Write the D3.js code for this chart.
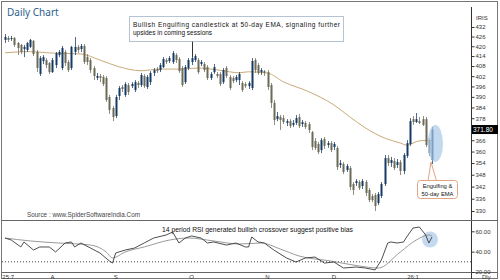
<!DOCTYPE html>
<html>
<head>
<meta charset="utf-8">
<script src="https://cdn.jsdelivr.net/npm/d3@7"></script>
<style>
body { margin: 0; background: #fff; }
text { font-family: "Liberation Sans", Arial, sans-serif; }
</style>
</head>
<body>
<div id="chart"></div>
<script>
var width = 500,
    height = 280;

// daily candles: open, high, low, close
var candles = [
[423.9,427.6,422.0,425.7],[425.1,426.4,422.6,423.9],[424.5,426.4,423.3,425.1],[425.1,425.7,419.6,420.8],
[422.0,422.6,414.6,418.9],[420.8,421.4,415.2,416.5],[418.3,420.8,413.4,419.6],[417.7,422.6,416.5,422.0],
[419.6,424.5,418.9,423.9],[423.3,423.9,414.0,415.2],[416.5,417.7,404.4,406.8],[403.3,414.0,402.1,412.8],
[411.0,414.6,409.2,413.4],[411.6,412.8,406.8,408.6],[409.8,410.4,403.3,404.4],[404.4,412.8,403.9,411.6],
[408.6,416.5,406.8,415.8],[414.6,417.7,413.4,416.5],[406.8,420.2,405.6,418.9],[416.5,417.7,408.0,409.8],
[410.4,411.6,404.4,405.6],[406.8,420.2,405.6,419.6],[416.5,425.7,414.6,419.6],[419.6,420.8,416.0,417.7],
[418.3,421.4,416.5,420.2],[420.2,421.4,409.2,410.4],[413.4,415.2,408.6,410.4],[411.6,412.8,403.9,405.6],
[406.8,408.0,399.7,402.1],[401.0,403.9,399.7,402.1],[402.1,403.3,398.5,401.0],[401.5,402.7,396.2,397.4],
[400.9,402.1,387.1,388.2],[389.9,391.1,380.4,382.6],[383.7,384.8,376.4,378.7],[379.2,391.1,378.1,389.9],
[390.5,396.2,388.2,395.1],[395.7,396.8,392.8,394.5],[391.1,398.5,390.0,397.4],[396.8,398.0,391.1,392.8],
[396.2,398.5,395.1,397.4],[393.9,399.7,392.8,398.5],[398.0,399.1,395.1,396.8],[396.8,403.9,395.7,402.7],
[402.1,403.3,395.1,396.2],[395.7,402.7,394.5,401.5],[398.5,405.0,396.8,403.9],[403.9,406.8,402.1,405.6],
[406.2,407.4,403.9,405.0],[405.6,409.8,404.4,408.6],[407.4,413.4,406.8,412.2],[411.6,412.8,409.2,410.4],
[411.0,414.0,409.8,412.8],[410.4,417.1,409.2,415.8],[414.6,415.8,409.8,411.6],[412.2,413.4,403.9,405.0],
[406.8,408.0,395.7,396.8],[398.5,408.6,397.4,407.4],[406.8,412.8,405.6,411.6],[410.4,414.0,408.6,412.8],
[411.6,415.2,410.4,414.0],[411.6,412.8,403.3,404.4],[409.2,411.6,408.0,410.4],[409.2,410.4,404.4,405.6],
[407.4,408.6,399.7,400.9],[400.9,404.4,399.7,403.3],[404.4,409.2,403.3,407.4],[403.3,404.4,401.0,402.1],
[403.3,404.4,396.2,397.4],[398.5,406.8,397.4,405.6],[406.8,408.0,401.0,402.1],[401.5,402.7,393.9,395.1],
[400.9,402.1,397.9,399.1],[399.7,402.7,398.5,401.5],[399.7,404.4,396.8,403.3],[398.0,399.1,392.8,393.9],
[397.4,398.5,395.1,396.2],[396.2,399.1,394.5,398.0],[395.1,412.8,393.9,411.0],[411.6,412.8,403.9,405.6],
[408.6,409.8,402.7,403.9],[404.4,406.8,402.7,405.6],[405.0,405.6,402.1,403.9],[404.4,405.6,393.9,395.7],
[396.8,398.0,383.7,386.6],[386.6,388.2,374.3,377.0],[377.5,381.5,376.4,379.2],[378.7,379.8,371.5,377.0],
[378.1,379.8,374.8,375.9],[375.4,377.5,373.7,376.4],[376.4,377.5,372.6,373.7],[374.3,377.0,373.2,375.4],
[375.4,379.8,374.3,378.1],[378.7,380.4,372.6,373.7],[374.8,377.0,373.2,375.9],[375.4,376.4,372.1,373.2],
[374.8,375.9,369.9,371.5],[370.4,371.0,360.8,362.4],[365.6,367.2,360.8,361.9],[364.0,365.1,358.7,359.7],
[360.8,367.2,359.2,366.1],[366.7,367.7,361.4,363.0],[363.5,365.6,362.0,364.5],[364.5,365.6,359.7,360.8],
[362.4,365.1,360.8,364.0],[361.9,362.9,350.4,351.9],[353.0,355.6,351.4,354.0],[353.5,354.5,348.3,349.4],
[350.4,353.5,349.4,352.5],[351.4,352.5,340.3,341.8],[343.3,344.3,337.8,340.3],[343.8,345.8,342.3,344.8],
[344.3,345.3,340.3,341.3],[342.3,345.8,340.8,344.8],[344.3,345.3,337.3,338.8],[340.3,341.3,334.3,335.3],
[337.3,338.3,334.3,335.3],[337.8,338.8,330.0,332.4],[333.9,339.3,332.9,338.3],[337.3,344.3,336.3,343.3],
[343.3,358.2,342.3,356.6],[356.6,358.2,352.5,354.0],[354.0,357.2,352.0,355.6],[355.1,356.6,350.4,351.4],
[353.0,356.1,351.4,354.5],[354.5,355.6,347.8,349.9],[349.9,359.2,348.3,358.2],[357.7,366.1,356.6,364.5],
[364.0,378.1,363.0,376.4],[377.5,379.2,374.3,375.9],[375.9,380.9,375.4,377.5],[376.4,378.7,374.8,375.4],
[377.5,379.2,373.7,374.3],[377.5,378.7,362.4,363.5],[366.1,367.2,357.7,359.2],[355.6,373.2,353.5,371.8]
];

// 50-day EMA read at a few candles
var emaIdx = [0, 8, 14, 24, 30, 36, 43, 49, 55, 61, 68, 74, 77, 83, 88, 96, 104, 109, 114, 120, 125, 127, 131, 135];
var emaVal = [416.0, 416.7, 415.9, 415.3, 411.6, 407.6, 405.2, 406.2, 406.2, 406.8, 405.5, 404.0, 404.6, 403.8,
              398.7, 393.0, 385.4, 378.8, 372.6, 367.2, 364.5, 363.4, 365.7, 366.0];

// 14 period RSI and its average
var rsiIdx = [0, 2, 5, 6, 9, 11, 14, 16, 19, 21, 22, 24, 27, 30, 33, 34, 35, 38, 41, 44, 47, 51, 53, 55, 57, 59,
              62, 64, 66, 70, 73, 76, 77, 78, 80, 82, 85, 89, 92, 95, 98, 101, 104, 107, 111, 114, 117, 119,
              121, 122, 124, 126, 127, 129, 131, 133, 134, 135];
var rsiVal = [53.4, 51.4, 44.6, 49.5, 41.6, 44.6, 44.6, 39.7, 48.5, 49.5, 44.6, 48.5, 43.6, 38.7, 30.8, 28.8, 38.7,
              41.6, 43.6, 48.5, 53.4, 56.4, 59.3, 48.5, 53.4, 55.4, 53.4, 48.5, 49.5, 46.5, 48.5, 44.6, 44.6,
              54.4, 49.5, 48.5, 41.6, 33.8, 29.8, 33.8, 34.7, 28.8, 29.8, 23.9, 24.9, 23.9, 22.0, 31.8,
              48.5, 49.5, 48.5, 49.5, 54.4, 63.2, 64.2, 56.4, 48.5, 54.4];
var sigIdx = [0, 8, 17, 27, 32, 34, 38, 44, 52, 58, 66, 74, 81, 87, 93, 103, 112, 118, 125, 130, 134, 135];
var sigVal = [53.4, 50.5, 48.5, 46.5, 39.7, 33.8, 39.7, 44.6, 51.4, 53.4, 50.5, 47.5, 48.5, 42.6, 35.7, 30.8,
              25.9, 23.9, 39.7, 51.4, 56.4, 55.4];

var priceTicks = [432, 426, 420, 414, 408, 402, 396, 390, 384, 378, 366, 360, 354, 348, 342, 336, 330];
var rsiTicks = [20, 40, 60];
var monthLabels = ["25:7", "A", "S", "O", "N", "D", "26:1"];
var monthIdx = [1, 15, 35, 59, 83, 104, 129];
var lastPrice = 371.80;

var svg = d3.select("#chart").append("svg")
    .attr("width", width)
    .attr("height", height);

var x = d3.scaleLinear().domain([0, candles.length - 1]).range([5, 432]),
    y = d3.scaleLog().domain([330, 432]).range([211, 27]),
    yr = d3.scaleLinear().domain([20, 60]).range([272, 231.3]);

var bull = "#163a63", bear = "#6b6a58";

// frame
svg.append("rect")
    .attr("x", 1.5).attr("y", 1.5)
    .attr("width", 496).attr("height", 277)
    .attr("fill", "none").attr("stroke", "#777");

svg.append("text")
    .attr("x", 7).attr("y", 16)
    .style("font-family", "'Noto Sans', sans-serif")
    .style("font-size", "10px")
    .attr("fill", "#2f5f8f")
    .text("Daily Chart");

// EMA
svg.append("path")
    .datum(emaIdx.map(function(d, i) { return [d, emaVal[i]]; }))
    .attr("fill", "none")
    .attr("stroke", "#c9aa78")
    .attr("stroke-width", 1)
    .attr("d", d3.line()
        .x(function(d) { return x(d[0]); })
        .y(function(d) { return y(d[1]); })
        .curve(d3.curveMonotoneX));

// candles
var c = svg.append("g").selectAll("g")
    .data(candles)
  .enter().append("g");

c.append("line")
    .attr("x1", function(d, i) { return Math.round(x(i)) + 0.5; })
    .attr("x2", function(d, i) { return Math.round(x(i)) + 0.5; })
    .attr("y1", function(d) { return y(d[1]); })
    .attr("y2", function(d) { return y(d[2]); })
    .attr("stroke", function(d) { return d[3] >= d[0] ? bull : bear; })
    .attr("stroke-opacity", 0.75);

c.append("rect")
    .attr("x", function(d, i) { return Math.round(x(i)) - 0.5; })
    .attr("width", 2)
    .attr("y", function(d) { return y(Math.max(d[0], d[3])); })
    .attr("height", function(d) { return Math.max(1, Math.abs(y(d[0]) - y(d[3]))); })
    .attr("fill", function(d) { return d[3] >= d[0] ? bull : bear; });

// highlight of the last candle
svg.append("ellipse")
    .attr("cx", 435.3).attr("cy", 143.5)
    .attr("rx", 7.7).attr("ry", 18.5)
    .attr("fill", "#a9c9ea").attr("fill-opacity", 0.7);

// annotation box
svg.append("line")
    .attr("x1", 192.5).attr("x2", 192.5)
    .attr("y1", 41).attr("y2", 57)
    .attr("stroke", "#333");

svg.append("rect")
    .attr("x", 129.5).attr("y", 16.5)
    .attr("width", 214).attr("height", 25)
    .attr("fill", "#fff")
    .attr("stroke", "#6a88a6")
    .attr("stroke-dasharray", "1,1");

svg.append("text")
    .attr("x", 133).attr("y", 26.5)
    .attr("textLength", 207)
    .attr("lengthAdjust", "spacing")
    .style("font-size", "6.5px")
    .attr("fill", "#111")
    .text("Bullish Engulfing candlestick at 50-day EMA, signaling further");

svg.append("text")
    .attr("x", 133).attr("y", 35)
    .style("font-size", "6.5px")
    .attr("fill", "#111")
    .text("upsides in coming sessions");

// callout
svg.append("path")
    .attr("d", "M428,181L431,162L436.5,181")
    .attr("fill", "#fff")
    .attr("stroke", "#e3a281");

svg.append("rect")
    .attr("x", 417.5).attr("y", 180.5)
    .attr("width", 40).attr("height", 18)
    .attr("rx", 3)
    .attr("fill", "#fff")
    .attr("stroke", "#e3a281");

svg.append("text")
    .attr("x", 437.5).attr("y", 188)
    .attr("text-anchor", "middle")
    .style("font-size", "5.8px")
    .attr("fill", "#111")
    .text("Engulfing &");

svg.append("text")
    .attr("x", 437.5).attr("y", 195.5)
    .attr("text-anchor", "middle")
    .style("font-size", "5.8px")
    .attr("fill", "#111")
    .text("50-day EMA");

svg.append("text")
    .attr("x", 27).attr("y", 216.5)
    .attr("textLength", 113)
    .attr("lengthAdjust", "spacingAndGlyphs")
    .style("font-size", "6.5px")
    .attr("fill", "#444")
    .text("Source : www.SpiderSoftwareIndia.Com");

// price axis
var ya = svg.append("g")
    .attr("transform", "translate(471.5,0)")
    .call(d3.axisRight(y).tickValues(priceTicks).tickFormat(d3.format("d")).tickSize(3).tickPadding(1));
ya.select(".domain").remove();
ya.selectAll("text").style("font-size", "6px").attr("fill", "#333");
ya.selectAll("line").attr("stroke", "#333");

svg.append("line")
    .attr("x1", 471.5).attr("x2", 471.5)
    .attr("y1", 7).attr("y2", 279)
    .attr("stroke", "#333");

svg.append("text")
    .attr("x", 476).attr("y", 20)
    .style("font-size", "6px")
    .attr("fill", "#333")
    .text("IRIS");

svg.append("rect")
    .attr("x", 472).attr("y", y(lastPrice) - 4.5)
    .attr("width", 26).attr("height", 9)
    .attr("fill", "#000");

svg.append("text")
    .attr("x", 473).attr("y", y(lastPrice) + 2.5)
    .style("font-size", "6.5px")
    .attr("fill", "#fff")
    .text(d3.format(".2f")(lastPrice));

// panel separators
svg.append("line")
    .attr("x1", 2).attr("x2", 498)
    .attr("y1", 220.5).attr("y2", 220.5)
    .attr("stroke", "#666");

svg.append("line")
    .attr("x1", 2).attr("x2", 498)
    .attr("y1", 272.5).attr("y2", 272.5)
    .attr("stroke", "#666");

// RSI panel
svg.append("line")
    .attr("x1", 2).attr("x2", 471)
    .attr("y1", yr(30)).attr("y2", yr(30))
    .attr("stroke", "#444")
    .attr("stroke-dasharray", "1,2");

svg.append("circle")
    .attr("cx", 430).attr("cy", 239.5)
    .attr("r", 8)
    .attr("fill", "#a9c9ea").attr("fill-opacity", 0.7);

var rline = d3.line()
    .x(function(d) { return x(d[0]); })
    .y(function(d) { return yr(d[1]); });

svg.append("path")
    .datum(sigIdx.map(function(d, i) { return [d, sigVal[i]]; }))
    .attr("fill", "none")
    .attr("stroke", "#9a9a9a")
    .attr("d", rline.curve(d3.curveMonotoneX));

svg.append("path")
    .datum(rsiIdx.map(function(d, i) { return [d, rsiVal[i]]; }))
    .attr("fill", "none")
    .attr("stroke", "#3a3a3a")
    .attr("stroke-width", 0.9)
    .attr("d", rline.curve(d3.curveLinear));

svg.append("text")
    .attr("x", 162).attr("y", 232)
    .attr("textLength", 191)
    .attr("lengthAdjust", "spacingAndGlyphs")
    .style("font-size", "6.8px")
    .attr("fill", "#111")
    .text("14 period RSI generated bullish crossover suggest positive bias");

var ra = svg.append("g")
    .attr("transform", "translate(471.5,0)")
    .call(d3.axisRight(yr).tickValues(rsiTicks).tickFormat(d3.format(".2f")).tickSize(3).tickPadding(1));
ra.select(".domain").remove();
ra.selectAll("text").style("font-size", "6px").attr("fill", "#333");
ra.selectAll("line").attr("stroke", "#333");

// months
svg.append("g").selectAll("text")
    .data(monthLabels)
  .enter().append("text")
    .attr("x", function(d, i) { return x(monthIdx[i]); })
    .attr("y", 278.5)
    .attr("text-anchor", "middle")
    .style("font-size", "6px")
    .attr("fill", "#333")
    .text(function(d) { return d; });

svg.append("text")
    .attr("x", 482).attr("y", 279)
    .style("font-size", "6px")
    .attr("fill", "#333")
    .text("Dly");
</script>
</body>
</html>
